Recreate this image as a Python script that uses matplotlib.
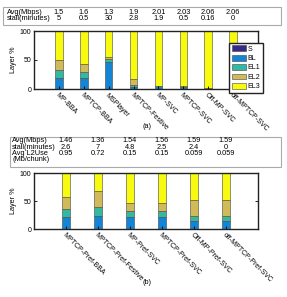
import matplotlib
matplotlib.use('Agg')
import matplotlib.pyplot as plt
import matplotlib.transforms as mtrans
from matplotlib.patches import Rectangle
import numpy as np

plt.rcParams['font.family'] = ['Liberation Sans', 'DejaVu Sans']

# layer colours (parula 5)
layers = ['S', 'BL', 'EL1', 'EL2', 'EL3']
colors = ['#352a87', '#1484d4', '#33b8a1', '#d1bb59', '#f9fb0e']

# (a)
names_a = ['MP-BBA', 'MPTCP-BBA', 'MSPlayer', 'MPTCP-Festive', 'MP-SVC',
           'MPTCP-SVC', 'Off-MP-SVC', 'off-MPTCP-SVC']
s_a = [0.5, 0.5, 0.5, 0.5, 0.5, 0.5, 0, 0]
bl_a = [19, 19, 46, 3, 4, 2.5, 0, 0]
el1_a = [13, 9, 6, 4, 0.5, 0.5, 0, 0]
el2_a = [17, 15, 3, 9, 0.5, 1, 2, 2]
el3_a = [50.5, 56.5, 44.5, 83.5, 94.5, 95.5, 98, 98]
avg_a = ['1.5', '1.6', '1.3', '1.9', '2.01', '2.03', '2.06', '2.06']
stall_a = ['5', '0.5', '30', '2.8', '1.9', '0.5', '0.16', '0']

# (b)
names_b = ['MPTCP-Pref-BBA', 'MPTCP-Pref-Festive', 'MP-Pref-SVC',
           'MPTCP-Pref-SVC', 'Off-MP-Pref-SVC', 'off-MPTCP-Pref-SVC']
s_b = [0, 0, 0, 0, 0, 0]
bl_b = [21, 23, 21, 21, 15, 15]
el1_b = [15, 17, 11, 11, 8, 8]
el2_b = [21, 27, 15, 14, 28, 29]
el3_b = [43, 33, 53, 54, 49, 48]
avg_b = ['1.46', '1.36', '1.54', '1.56', '1.59', '1.59']
stall_b = ['2.6', '7', '4.8', '2.5', '2.4', '0']
l2_b = ['0.95', '0.72', '0.15', '0.15', '0.059', '0.059']

W, H = 287, 297
fig = plt.figure(figsize=(W / 100, H / 100), dpi=100)
FS = 5.0     # tick labels
TFS = 5.3    # table text

def fy(py):
    return 1 - py / H

def stacked(ax, names, series, width):
    x = np.arange(1, len(names) + 1)
    bottom = np.zeros(len(names))
    handles = []
    for vals, c, lab in zip(series, colors, layers):
        h = ax.bar(x, vals, width, bottom=bottom, color=c, edgecolor='#444444',
                   linewidth=0.4, label=lab)
        handles.append(h)
        bottom = bottom + np.array(vals)
    ax.set_xlim(0, len(names) + 1)
    ax.set_ylim(0, 100)
    ax.set_yticks([0, 50, 100])
    ax.set_xticks(x)
    ax.set_xticklabels(names, rotation=-45, ha='left', va='top',
                       rotation_mode='anchor', fontsize=FS)
    ax.tick_params(axis='both', direction='in', length=2, width=0.6,
                   labelsize=FS, pad=2, right=True)
    ax.set_ylabel('Layer %', fontsize=5.2, labelpad=2)
    for sp in ax.spines.values():
        sp.set_linewidth(1.0)
        sp.set_color('#222222')
    return x, handles

def table(ax, x, rows, box, row_y, label_x):
    x0, y0, x1, y1 = box
    fig.add_artist(Rectangle((x0 / W, fy(y1)), (x1 - x0) / W, (y1 - y0) / H,
                             transform=fig.transFigure, fill=False,
                             edgecolor='#aaaaaa', linewidth=0.8))
    tr = mtrans.blended_transform_factory(ax.transData, fig.transFigure)
    for (label, vals), py in zip(rows, row_y):
        fig.text(label_x / W, fy(py), label, fontsize=TFS,
                 va='center', ha='left')
        if vals is None:
            continue
        for xi, v in zip(x, vals):
            fig.text(xi, fy(py), v, transform=tr, fontsize=TFS,
                     va='center', ha='center')

# panel (a)
ax1 = fig.add_axes([34 / W, fy(89), 224 / W, 58 / H])
xa, handles = stacked(ax1, names_a, [s_a, bl_a, el1_a, el2_a, el3_a], 0.3)
ax1.legend(handles, layers, loc='upper right', fontsize=5,
           bbox_to_anchor=(263 / W, fy(43)), bbox_transform=fig.transFigure,
           frameon=True, fancybox=False, framealpha=1, edgecolor='#222222',
           handlelength=2.0, handleheight=0.9, borderpad=0.35,
           labelspacing=0.3, handletextpad=0.3, borderaxespad=0)
ax1.get_legend().get_frame().set_linewidth(1.0)
table(ax1, xa, [('Avg(Mbps)', avg_a), ('stall(minutes)', stall_a)],
      (3, 7, 281, 25), [12, 18.5], 7)
fig.text(147 / W, fy(127), '(a)', fontsize=5.2, ha='center', va='center')

# panel (b)
ax2 = fig.add_axes([34 / W, fy(229), 224 / W, 56 / H])
xb, _ = stacked(ax2, names_b, [s_b, bl_b, el1_b, el2_b, el3_b], 0.28)
table(ax2, xb, [('Avg(Mbps)', avg_b), ('stall(minutes)', stall_b),
                ('Avg L2Use', l2_b), ('(Mb/chunk)', None)],
      (10, 137, 281, 167), [141, 147.5, 153.5, 159.5], 12)
fig.text(147 / W, fy(283), '(b)', fontsize=5.2, ha='center', va='center')

fig.savefig('out.png', dpi=100)
